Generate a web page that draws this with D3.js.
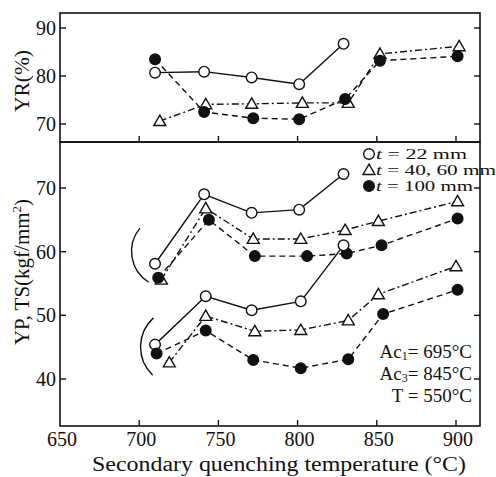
<!DOCTYPE html>
<html>
<head>
<meta charset="utf-8">
<script src="https://cdn.jsdelivr.net/npm/d3@7"></script>
<style>
  body { margin: 0; background: #fff; }
  svg { font-family: "Liberation Serif", "DejaVu Serif", serif; }
  .frame { fill: none; stroke: #111; stroke-width: 1.6; }
  .line { fill: none; stroke: #111; stroke-width: 1.4; }
</style>
</head>
<body>
<svg id="chart" width="496" height="477"></svg>
<script>
// secondary quenching temperature, per series (as plotted)
const tempThin = [710, 741, 771, 801, 829];
const tempMid = [713, 742, 771, 803, 832, 852, 902];
const tempThick = [710, 741, 772, 801, 830, 852, 901];

// YR (%)
const yrThin = [80.7, 80.9, 79.7, 78.3, 86.7];
const yrMid = [70.6, 74.1, 74.2, 74.4, 74.4, 84.6, 86.2];
const yrThick = [83.5, 72.5, 71.2, 71.0, 75.2, 83.2, 84.1];

// TS (kgf/mm2)
const tsThin = [58.1, 69.0, 66.1, 66.6, 72.2];
const tsMidTemp = [714, 742, 772, 802, 830, 851, 901];
const tsMid = [55.6, 66.8, 62.0, 62.0, 63.4, 64.8, 67.9];
const tsThickTemp = [712, 744, 773, 806, 831, 853, 901];
const tsThick = [55.9, 65.0, 59.3, 59.3, 59.7, 61.0, 65.2];

// YP (kgf/mm2)
const ypThinTemp = [710, 742, 771, 802, 829];
const ypThin = [45.4, 53.0, 50.8, 52.2, 61.0];
const ypMidTemp = [719, 742, 773, 802, 832, 851, 900];
const ypMid = [42.6, 49.9, 47.5, 47.7, 49.2, 53.3, 57.7];
const ypThickTemp = [711, 742, 772, 802, 832, 854, 901];
const ypThick = [44.0, 47.6, 43.0, 41.7, 43.1, 50.2, 54.0];

// brackets round the first points: [tempTop, valueTop, tempBottom, valueBottom]
const brackets = [[700.5, 63.7, 706, 55.2], [709, 49.6, 708.5, 40.6]];

const xTicks = [650, 700, 750, 800, 850, 900];
const yrTicks = [70, 80, 90];
const strTicks = [40, 50, 60, 70];
const legendLabels = ["= 22 mm", "= 40, 60 mm", "= 100 mm"];
const notes = ["= 695\u00b0C", "= 845\u00b0C", "T = 550\u00b0C"];

const svg = d3.select('#chart');
const L = 60, R = 480, T1 = 13, B1 = 142, B2 = 426;

const x = d3.scaleLinear().domain([650, 900]).range([L, 456]);
const yTop = d3.scaleLinear().domain([70, 90]).range([124, 28]);
const yBot = d3.scaleLinear().domain([40, 70]).range([379, 188]);

const styles = {
  thin: { dash: null, marker: 'open' },
  mid: { dash: '7,3,2,3', marker: 'tri' },
  thick: { dash: '6,4', marker: 'dot' }
};

function drawSeries(g, xs, ys, yScale, st) {
  const pts = xs.map((d, i) => [x(d), yScale(ys[i])]);
  g.append('path')
    .attr('class', 'line')
    .attr('d', d3.line()(pts))
    .attr('stroke-dasharray', st.dash);
  pts.forEach(p => drawMarker(g, p[0], p[1], st.marker));
}

function drawMarker(g, cx, cy, kind) {
  if (kind === 'tri') {
    g.append('path')
      .attr('d', d3.symbol(d3.symbolTriangle, 62)())
      .attr('transform', `translate(${cx},${cy + 1})`)
      .attr('fill', '#fff').attr('stroke', '#111').attr('stroke-width', 1.4);
  } else {
    g.append('circle')
      .attr('cx', cx).attr('cy', cy).attr('r', 5.3)
      .attr('fill', kind === 'dot' ? '#111' : '#fff')
      .attr('stroke', '#111').attr('stroke-width', 1.4);
  }
}

// frames
svg.append('rect').attr('class', 'frame')
  .attr('x', L).attr('y', T1).attr('width', R - L).attr('height', B1 - T1);
svg.append('rect').attr('class', 'frame')
  .attr('x', L).attr('y', B1).attr('width', R - L).attr('height', B2 - B1);

// ticks (inward)
const tk = svg.append('g').attr('stroke', '#111').attr('stroke-width', 1.4);
xTicks.slice(1).forEach(t => {
  tk.append('line').attr('x1', x(t)).attr('x2', x(t)).attr('y1', B1).attr('y2', B1 - 6);
  tk.append('line').attr('x1', x(t)).attr('x2', x(t)).attr('y1', B2).attr('y2', B2 - 6);
});
yrTicks.forEach(t => {
  tk.append('line').attr('x1', L).attr('x2', L + 6).attr('y1', yTop(t)).attr('y2', yTop(t));
  tk.append('line').attr('x1', R).attr('x2', R - 6).attr('y1', yTop(t)).attr('y2', yTop(t));
});
strTicks.forEach(t => {
  tk.append('line').attr('x1', L).attr('x2', L + 6).attr('y1', yBot(t)).attr('y2', yBot(t));
  tk.append('line').attr('x1', R).attr('x2', R - 6).attr('y1', yBot(t)).attr('y2', yBot(t));
});

// tick labels
const lab = svg.append('g').attr('font-size', 20).attr('fill', '#111');
xTicks.forEach(t => {
  lab.append('text').attr('x', x(t) + 2).attr('y', B2 + 20)
    .attr('text-anchor', 'middle').text(t);
});
yrTicks.forEach(t => {
  lab.append('text').attr('x', L - 4).attr('y', yTop(t) + 7)
    .attr('text-anchor', 'end').text(t);
});
strTicks.forEach(t => {
  lab.append('text').attr('x', L - 4).attr('y', yBot(t) + 7)
    .attr('text-anchor', 'end').text(t);
});

// axis titles
lab.append('text').attr('transform', `translate(29,81) rotate(-90)`)
  .attr('text-anchor', 'middle').attr('font-size', 21)
  .attr('textLength', 62).attr('lengthAdjust', 'spacingAndGlyphs')
  .text('YR(%)');
lab.append('text').attr('transform', `translate(29,272) rotate(-90)`)
  .attr('text-anchor', 'middle').attr('font-size', 21)
  .html('YP, TS(kgf/mm<tspan dy="-8" font-size="13">2</tspan><tspan dy="8">)</tspan>');
lab.append('text').attr('x', 92).attr('y', 471)
  .attr('font-size', 20)
  .attr('textLength', 374).attr('lengthAdjust', 'spacingAndGlyphs')
  .text('Secondary quenching temperature (\u00b0C)');

// series
const g = svg.append('g');
drawSeries(g, tempThin, yrThin, yTop, styles.thin);
drawSeries(g, tempMid, yrMid, yTop, styles.mid);
drawSeries(g, tempThick, yrThick, yTop, styles.thick);

drawSeries(g, tempThin, tsThin, yBot, styles.thin);
drawSeries(g, tsMidTemp, tsMid, yBot, styles.mid);
drawSeries(g, tsThickTemp, tsThick, yBot, styles.thick);

drawSeries(g, ypThinTemp, ypThin, yBot, styles.thin);
drawSeries(g, ypMidTemp, ypMid, yBot, styles.mid);
drawSeries(g, ypThickTemp, ypThick, yBot, styles.thick);

// brackets: arcs bulging to the left
brackets.forEach(b => {
  const x0 = x(b[0]), y0 = yBot(b[1]), x1 = x(b[2]), y1 = yBot(b[3]);
  const c = Math.hypot(x1 - x0, y1 - y0), s = 12.5;
  const r = (c * c / 4 + s * s) / (2 * s);
  g.append('path').attr('class', 'line').attr('stroke-width', 1.1)
    .attr('d', `M${x0},${y0} A${r},${r} 0 0,0 ${x1},${y1}`);
});

// legend
const legendKinds = ['open', 'tri', 'dot'];
const legendLen = [91, 120, 97];
legendLabels.forEach((s, i) => {
  const ly = 154 + i * 16;
  drawMarker(g, 369, ly, legendKinds[i]);
  const tx = lab.append('text').attr('x', 376).attr('y', ly + 5).attr('font-size', 15)
    .attr('textLength', legendLen[i]).attr('lengthAdjust', 'spacingAndGlyphs');
  tx.append('tspan').attr('font-style', 'italic').text('t');
  tx.append('tspan').text(' ' + s);
});

// notes
notes.forEach((s, i) => {
  const tx = lab.append('text').attr('x', 472).attr('y', 358 + i * 22)
    .attr('text-anchor', 'end').attr('font-size', 19);
  if (i < 2) {
    tx.append('tspan').text('Ac');
    tx.append('tspan').attr('font-size', 12).attr('dy', 2).text(i === 0 ? '1' : '3');
    tx.append('tspan').attr('dy', -2).text(s);
  } else {
    tx.text(s);
  }
});
</script>
</body>
</html>
